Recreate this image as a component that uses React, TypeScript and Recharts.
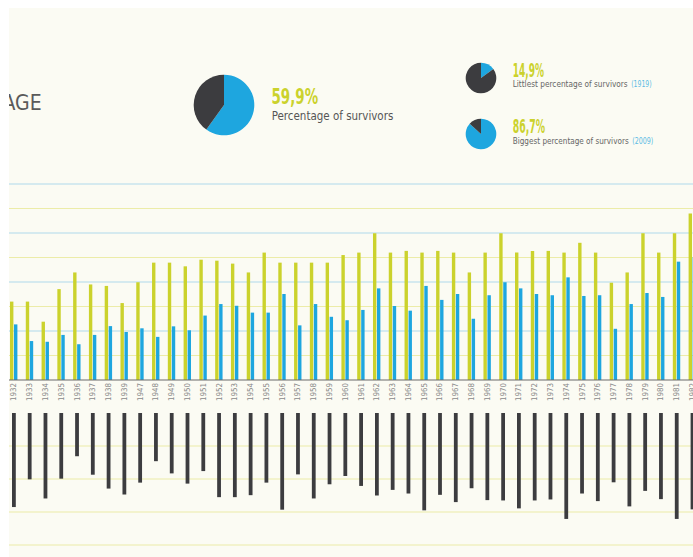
import React from "react"
import { Bar, BarChart, CartesianGrid, Cell, Pie, PieChart, XAxis, YAxis } from "recharts"

// years shown on the axis (the picture is cropped on the right)
const years = [
    "1932", "1933", "1934", "1935", "1936", "1937", "1938", "1939",
    "1947", "1948", "1949", "1950", "1951", "1952", "1953", "1954", "1955", "1956", "1957", "1958", "1959", "1960",
    "1961", "1962", "1963", "1964", "1965", "1966", "1967", "1968", "1969", "1970", "1971", "1972", "1973", "1974",
    "1975", "1976", "1977", "1978", "1979", "1980", "1981", "1982",
]

// values in grid units
const totalValues = [
    3.2, 3.2, 2.38, 3.71, 4.39, 3.9, 3.84, 3.14,
    3.99, 4.79, 4.79, 4.64, 4.91, 4.87, 4.75, 4.39, 5.2, 4.79, 4.79, 4.79, 4.79, 5.1,
    5.2, 5.99, 5.2, 5.27, 5.2, 5.27, 5.2, 4.39, 5.2, 5.99, 5.2, 5.27, 5.27, 5.2,
    5.6, 5.2, 3.97, 4.39, 5.99, 5.2, 5.99, 6.8,
]
const survivorValues = [
    2.27, 1.59, 1.56, 1.84, 1.46, 1.84, 2.2, 1.96,
    2.11, 1.76, 2.19, 2.03, 2.63, 3.1, 3.03, 2.75, 2.75, 3.51, 2.23, 3.1, 2.58, 2.44,
    2.86, 3.74, 3.02, 2.83, 3.84, 3.27, 3.51, 2.5, 3.46, 3.99, 3.74, 3.51, 3.46, 4.19,
    3.43, 3.46, 2.09, 3.1, 3.55, 3.39, 4.83, 5.01,
]
const lossValues = [
    2.85, 2.01, 2.59, 1.99, 1.31, 1.87, 2.29, 2.47,
    2.11, 1.46, 1.83, 2.14, 1.76, 2.55, 2.55, 2.49, 2.11, 2.93, 1.86, 2.59, 2.16, 1.91,
    2.21, 2.5, 2.33, 2.44, 2.95, 2.48, 2.7, 2.28, 2.64, 2.65, 2.89, 2.65, 2.62, 3.21,
    2.44, 2.67, 2.1, 2.83, 2.36, 2.61, 3.21, 2.92,
]

const overallSurvivors = 59.9
const leastSurvivors = 14.9
const mostSurvivors = 86.7

const topGridBlue = [2, 4, 6, 8]
const topGridYellow = [1, 3, 5, 7]
const bottomGrid = [1, 2, 3, 4]

const YELLOW = "#cbd22c"
const BLUE = "#1ea6df"
const DARK = "#3c3c3f"
const NARROW = "'Liberation Sans Narrow', 'DejaVu Sans Condensed', sans-serif"

const rows = years.map((year, i) => ({
    year,
    total: totalValues[i],
    survivors: survivorValues[i],
    loss: lossValues[i],
}))

const YearTick = (props: any) => {
    const { x, y, payload } = props
    return (
        <text
            transform={`translate(${x + 2.5},${y}) rotate(-90)`}
            textAnchor="end"
            fontSize={8}
            fontFamily={NARROW}
            fill="#8a8a8a"
            textLength={18}
            lengthAdjust="spacingAndGlyphs"
        >
            {payload.value}
        </text>
    )
}

function SmallPie({ value, size, radius, style }: { value: number; size: number; radius: number; style: React.CSSProperties }) {
    const data = [
        { name: "survivors", value },
        { name: "others", value: 100 - value },
    ]
    return (
        <div style={{ position: "absolute", ...style }}>
            <PieChart width={size} height={size} margin={{ top: 0, right: 0, bottom: 0, left: 0 }}>
                <Pie
                    data={data}
                    dataKey="value"
                    cx={size / 2}
                    cy={size / 2}
                    outerRadius={radius}
                    startAngle={90}
                    endAngle={-270}
                    stroke="none"
                    isAnimationActive={false}
                >
                    <Cell fill={BLUE} />
                    <Cell fill={DARK} />
                </Pie>
            </PieChart>
        </div>
    )
}

export default function App() {
    return (
        <div
            style={{
                position: "absolute",
                left: 9,
                top: 8,
                width: 684,
                height: 549,
                background: "#fbfbf3",
                overflow: "hidden",
            }}
        >
            {/* texts */}
            <svg width={684} height={549} style={{ position: "absolute", left: 0, top: 0 }}>
                <text x={32.7} y={102} textAnchor="end" fontSize={21} fontFamily={NARROW} fill="#5a5a5a">
                    AGE
                </text>
                <text x={262.5} y={96.3} fontSize={22} fontWeight="bold" fontFamily={NARROW} fill={YELLOW} textLength={46.6} lengthAdjust="spacingAndGlyphs">
                    59,9%
                </text>
                <text x={262.7} y={112.3} fontSize={13} fontFamily={NARROW} fill="#555" textLength={121.6} lengthAdjust="spacingAndGlyphs">
                    Percentage of survivors
                </text>
                <text x={503.7} y={68.7} fontSize={19} fontWeight="bold" fontFamily={NARROW} fill={YELLOW} textLength={31.3} lengthAdjust="spacingAndGlyphs">
                    14,9%
                </text>
                <text x={503.7} y={78.7} fontSize={8.5} fontFamily={NARROW} fill="#666" textLength={115} lengthAdjust="spacingAndGlyphs">
                    Littlest percentage of survivors
                </text>
                <text x={622.2} y={78.7} fontSize={8.5} fontFamily={NARROW} fill="#5bbbe4" textLength={20.5} lengthAdjust="spacingAndGlyphs">
                    (1919)
                </text>
                <text x={503.7} y={125.3} fontSize={19} fontWeight="bold" fontFamily={NARROW} fill={YELLOW} textLength={32.3} lengthAdjust="spacingAndGlyphs">
                    86,7%
                </text>
                <text x={503.7} y={136} fontSize={8.5} fontFamily={NARROW} fill="#666" textLength={116} lengthAdjust="spacingAndGlyphs">
                    Biggest percentage of survivors
                </text>
                <text x={623.2} y={136} fontSize={8.5} fontFamily={NARROW} fill="#5bbbe4" textLength={21.1} lengthAdjust="spacingAndGlyphs">
                    (2009)
                </text>
            </svg>

            <SmallPie value={overallSurvivors} size={70} radius={30.3} style={{ left: 179.7, top: 62 }} />
            <SmallPie value={leastSurvivors} size={36} radius={15.3} style={{ left: 454.3, top: 52.3 }} />
            <SmallPie value={mostSurvivors} size={36} radius={15.3} style={{ left: 454.3, top: 107.7 }} />

            {/* upper chart: yellow and blue bars */}
            <div style={{ position: "absolute", left: -3.4, top: 172 }}>
                <BarChart
                    width={694.4}
                    height={224}
                    data={rows}
                    margin={{ top: 4, right: 0, bottom: 0, left: 0 }}
                    barSize={3.4}
                    barGap={0.6}
                >
                    <CartesianGrid vertical={false} horizontalValues={topGridYellow} stroke="#ececa8" strokeWidth={1.2} />
                    <CartesianGrid vertical={false} horizontalValues={topGridBlue} stroke="#afdaeb" strokeWidth={1.2} />
                    <XAxis
                        dataKey="year"
                        interval={0}
                        height={24}
                        tickLine={false}
                        tickSize={0}
                        tickMargin={3}
                        axisLine={{ stroke: "#6a6a6a", strokeWidth: 1.2 }}
                        tick={<YearTick />}
                    />
                    <YAxis hide domain={[0, 8]} />
                    <Bar dataKey="total" fill={YELLOW} isAnimationActive={false} />
                    <Bar dataKey="survivors" fill={BLUE} isAnimationActive={false} />
                </BarChart>
            </div>

            {/* lower chart: dark bars hanging down */}
            <div style={{ position: "absolute", left: -3.4, top: 402.7 }}>
                <BarChart
                    width={694.4}
                    height={138}
                    data={rows}
                    margin={{ top: 2, right: 0, bottom: 4, left: 0 }}
                    barSize={3.8}
                >
                    <CartesianGrid vertical={false} horizontalValues={bottomGrid} stroke="#ececa8" strokeWidth={1.2} />
                    <XAxis
                        dataKey="year"
                        orientation="top"
                        height={0}
                        tick={false}
                        tickLine={false}
                        axisLine={{ stroke: "#6a6a6a", strokeWidth: 1.2 }}
                    />
                    <YAxis hide reversed domain={[0, 4]} />
                    <Bar dataKey="loss" fill={DARK} isAnimationActive={false} />
                </BarChart>
            </div>
        </div>
    )
}
